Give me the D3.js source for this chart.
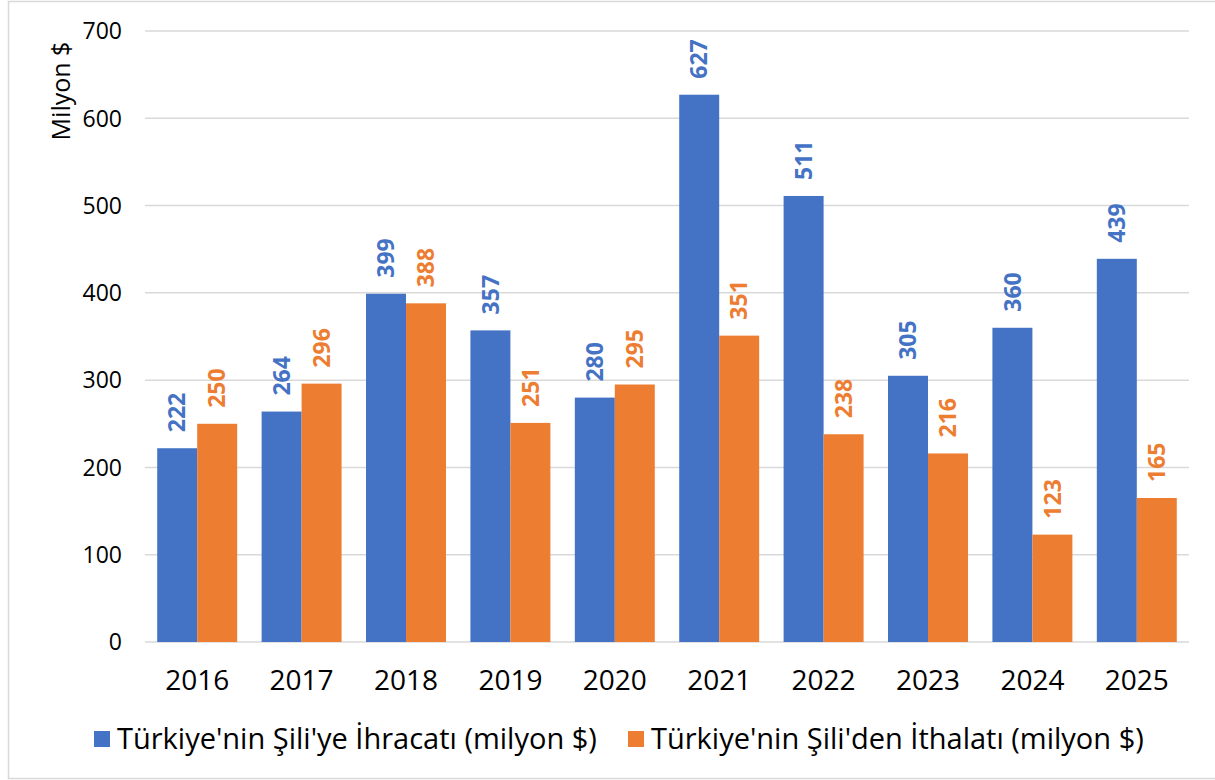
<!DOCTYPE html>
<html>
<head>
<meta charset="utf-8">
<script src="https://cdn.jsdelivr.net/npm/d3@7"></script>
<style>
  body { margin: 0; background: #fff; }
  text { font-family: "Open Sans", sans-serif; }
</style>
</head>
<body>
<script>
// 数据
const years = ['2016', '2017', '2018', '2019', '2020', '2021', '2022', '2023', '2024', '2025'];
const ihracat = [222, 264, 399, 357, 280, 627, 511, 305, 360, 439];
const ithalat = [250, 296, 388, 251, 295, 351, 238, 216, 123, 165];
const yTicks = [0, 100, 200, 300, 400, 500, 600, 700];
const seriesNames = ["Türkiye'nin Şili'ye İhracatı (milyon $)", "Türkiye'nin Şili'den İthalatı (milyon $)"];
const colors = ['#4472C4', '#ED7D31'];

const width = 1215, height = 780;
const plot = {left: 145, right: 1189, top: 31, bottom: 642};

const svg = d3.select('body').append('svg')
    .attr('width', width)
    .attr('height', height);

// 外框
svg.append('rect')
    .attr('x', 8.5).attr('y', 1.5)
    .attr('width', width).attr('height', 777)
    .attr('fill', 'none')
    .attr('stroke', '#d9d9d9')
    .attr('stroke-width', 1.5);

// 比例尺
const x0 = d3.scaleBand()
    .domain(years)
    .range([plot.left, plot.right])
    .paddingInner(0.234)
    .paddingOuter(0.117);
const x1 = d3.scaleBand()
    .domain([0, 1])
    .range([0, x0.bandwidth()]);
const y = d3.scaleLinear()
    .domain([0, 700])
    .range([plot.bottom, plot.top]);

// 网格线
svg.append('g')
    .selectAll('line')
    .data(yTicks)
    .enter()
    .append('line')
    .attr('x1', plot.left).attr('x2', plot.right)
    .attr('y1', d => y(d)).attr('y2', d => y(d))
    .attr('stroke', '#d9d9d9')
    .attr('stroke-width', 1.5);

// Y 轴刻度
svg.append('g')
    .selectAll('text')
    .data(yTicks)
    .enter()
    .append('text')
    .attr('x', 122)
    .attr('y', d => y(d))
    .attr('dy', '0.36em')
    .attr('text-anchor', 'end')
    .attr('font-size', 23)
    .attr('fill', '#000')
    .text(d => d);

// Y 轴标题
svg.append('text')
    .attr('transform', 'translate(70,91) rotate(-90)')
    .attr('text-anchor', 'middle')
    .attr('font-size', 25)
    .attr('fill', '#000')
    .text('Milyon $');

// X 轴刻度
svg.append('g')
    .selectAll('text')
    .data(years)
    .enter()
    .append('text')
    .attr('x', d => x0(d) + x0.bandwidth() / 2)
    .attr('y', 690)
    .attr('text-anchor', 'middle')
    .attr('font-size', 28)
    .attr('fill', '#000')
    .text(d => d);

// 柱子与数据标签
const series = [ihracat, ithalat];
series.forEach((vals, si) => {
    const g = svg.append('g');
    g.selectAll('rect')
        .data(vals)
        .enter()
        .append('rect')
        .attr('x', (d, i) => x0(years[i]) + x1(si))
        .attr('y', d => y(d))
        .attr('width', x1.bandwidth())
        .attr('height', d => y(0) - y(d))
        .attr('fill', colors[si]);
    g.selectAll('text')
        .data(vals)
        .enter()
        .append('text')
        .attr('transform', (d, i) => `translate(${x0(years[i]) + x1(si) + x1.bandwidth() / 2},${y(d) - 16}) rotate(-90)`)
        .attr('dy', '0.36em')
        .attr('text-anchor', 'start')
        .attr('font-size', 23)
        .attr('font-weight', 'bold')
        .attr('fill', colors[si])
        .text(d => d);
});

// 图例
const legendX = [94, 628];
seriesNames.forEach((name, i) => {
    svg.append('rect')
        .attr('x', legendX[i]).attr('y', 731)
        .attr('width', 16).attr('height', 16)
        .attr('fill', colors[i]);
    svg.append('text')
        .attr('x', legendX[i] + 23)
        .attr('y', 749)
        .attr('font-size', 29)
        .attr('fill', '#000')
        .text(name);
});
</script>
</body>
</html>
